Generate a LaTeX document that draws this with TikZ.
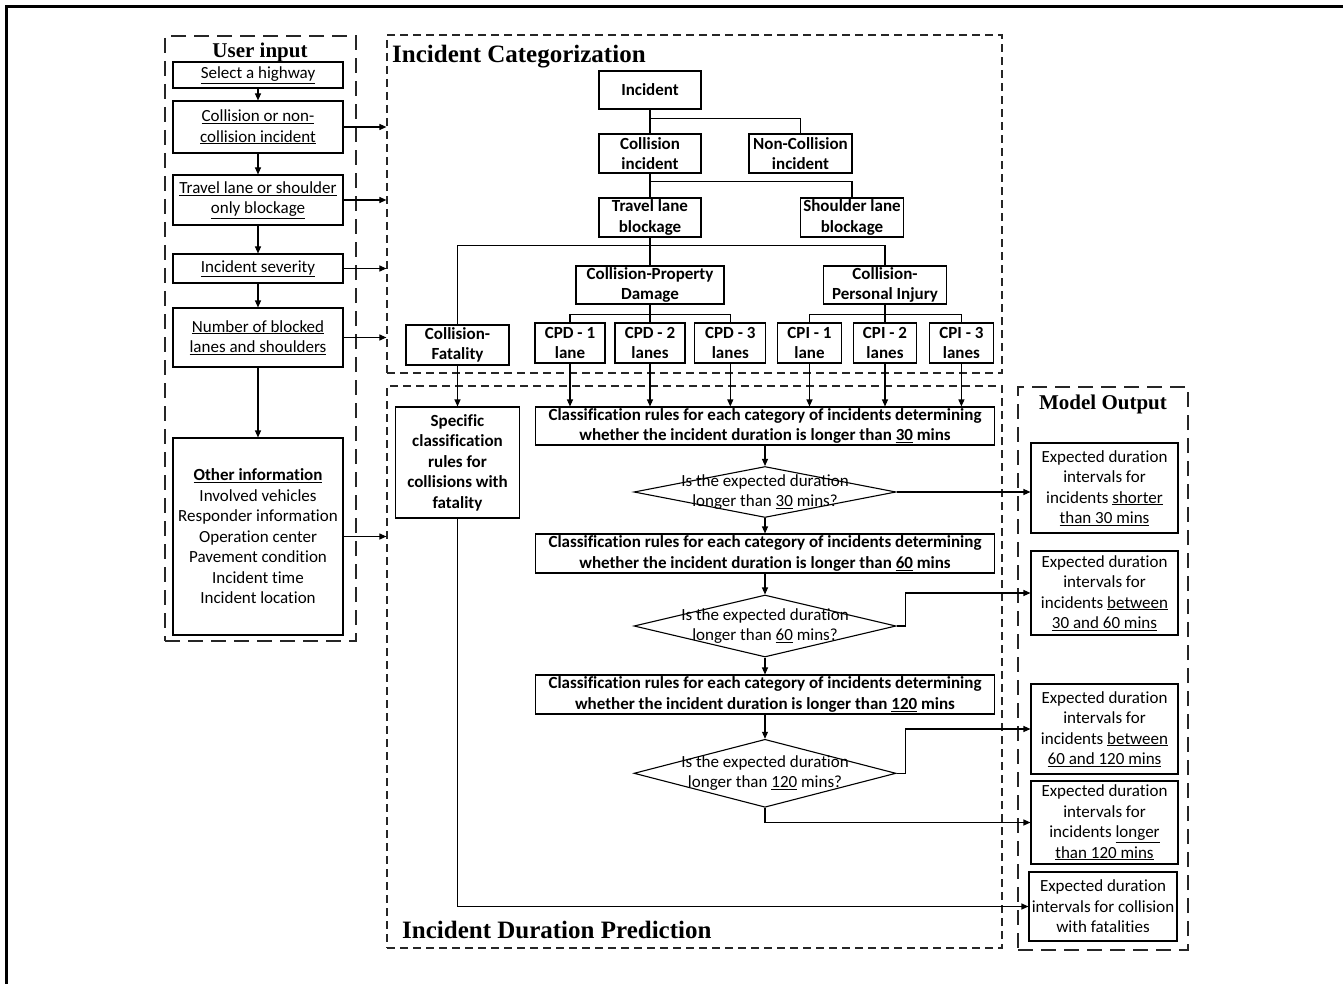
\documentclass[tikz,border=0pt]{standalone}
\usepackage{fontspec}
\setmainfont{Carlito}[Ligatures={NoCommon}]
\newfontfamily\titlefont{Liberation Serif}
\usetikzlibrary{arrows.meta,shapes.geometric}

\begin{document}
\begin{tikzpicture}[x=1pt,y=-1pt,
  every node/.style={font=\fontsize{17}{20.5}\selectfont},
  box/.style={draw,line width=1.1pt,align=center,inner sep=0pt},
  bbox/.style={box,font=\fontsize{17}{20.5}\selectfont\bfseries},
  dia/.style={draw,diamond,line width=1.1pt,inner sep=0pt,minimum width=262},
  link/.style={line width=1.1pt},
  arr/.style={line width=1.1pt,-{Triangle[length=7pt,width=6pt]}},
  longdash/.style={draw=black!85,line width=1.6pt,dash pattern=on 15pt off 8pt,inner sep=0pt},
  shortdash/.style={draw=black!85,line width=1.2pt,dash pattern=on 8pt off 5pt,inner sep=0pt},
  frametitle/.style={font=\titlefont\bfseries\fontsize{21}{24}\selectfont,inner sep=0pt},
  bigtitle/.style={font=\titlefont\bfseries\fontsize{25}{28}\selectfont,inner sep=0pt}
]
\useasboundingbox (0,0) rectangle (1343,984);

% page frame
\draw[line width=3pt] (6,984) -- (6,7) -- (1343,7);

% ---------- group frames ----------
\node[longdash,minimum width=191,minimum height=605] (uif) at (260.5,338.5) {};
\node[shortdash,minimum width=615,minimum height=338] (catf) at (694.5,204) {};
\node[shortdash,minimum width=615,minimum height=562] (idpf) at (694.5,667) {};
\node[longdash,minimum width=170,minimum height=563] (mof) at (1103,668.5) {};

\node[frametitle,anchor=base] (uit) at (260,58) {User input};
\node[bigtitle,anchor=base west] (catt) at (392,63) {Incident Categorization};
\node[bigtitle,anchor=base west] (idpt) at (402,938) {Incident Duration Prediction};
\node[frametitle,anchor=base] (mot) at (1103,409) {Model Output};

% ---------- user input ----------
\node[box,minimum width=170,minimum height=26] (sel) at (258,75) {\underline{Select a highway}};
\node[box,minimum width=170,minimum height=52] (col) at (258,127) {\underline{Collision or non-}\\\underline{collision incident}};
\node[box,minimum width=170,minimum height=50] (trv) at (258,200) {\underline{Travel lane or shoulder}\\\underline{only blockage}};
\node[box,minimum width=170,minimum height=29] (sev) at (258,268.5) {\underline{Incident severity}};
\node[box,minimum width=170,minimum height=59] (num) at (258,337.5) {\underline{Number of blocked}\\\underline{lanes and shoulders}};
\node[box,minimum width=170,minimum height=197] (oth) at (258,536.5) {\textbf{\underline{Other information}}\\Involved vehicles\\Responder information\\Operation center\\Pavement condition\\Incident time\\Incident location};

\draw[arr] (sel) -- (col);
\draw[arr] (col) -- (trv);
\draw[arr] (trv) -- (sev);
\draw[arr] (sev) -- (num);
\draw[arr] (num) -- (oth);

\draw[arr] (col.east) -- (col.east -| catf.west);
\draw[arr] (trv.east) -- (trv.east -| catf.west);
\draw[arr] (sev.east) -- (sev.east -| catf.west);
\draw[arr] (num.east) -- (num.east -| catf.west);
\draw[arr] (oth.east) -- (oth.east -| idpf.west);

% ---------- incident categorization ----------
\node[bbox,minimum width=102,minimum height=38] (inc) at (650,90) {Incident};
\node[bbox,minimum width=102,minimum height=39] (coll) at (650,153.5) {Collision\\incident};
\node[bbox,minimum width=103,minimum height=39] (ncoll) at (800.5,153.5) {Non-Collision\\incident};
\node[bbox,minimum width=102,minimum height=39] (tlb) at (650,217.5) {Travel lane\\blockage};
\node[bbox,minimum width=103,minimum height=39] (slb) at (852,217.5) {Shoulder lane\\blockage};
\node[bbox,minimum width=148,minimum height=38] (cpd) at (650,285) {Collision-Property\\Damage};
\node[bbox,minimum width=123,minimum height=38] (cpi) at (885,285) {Collision-\\Personal Injury};
\node[bbox,minimum width=103,minimum height=40] (cfat) at (457.5,345) {Collision-\\Fatality};
\node[bbox,minimum width=70,minimum height=40] (cpda) at (570,343) {CPD - 1\\lane};
\node[bbox,minimum width=70,minimum height=40] (cpdb) at (650,343) {CPD - 2\\lanes};
\node[bbox,minimum width=71,minimum height=40] (cpdc) at (730.3,343) {CPD - 3\\lanes};
\node[bbox,minimum width=63.5,minimum height=40] (cpia) at (809.5,343) {CPI - 1\\lane};
\node[bbox,minimum width=63.5,minimum height=40] (cpib) at (885,343) {CPI - 2\\lanes};
\node[bbox,minimum width=64,minimum height=40] (cpic) at (961.4,343) {CPI - 3\\lanes};

\draw[link] (inc) -- (coll);
\draw[link] (inc.south) -- ++(0,9) -| (ncoll.north);
\draw[link] (coll) -- (tlb);
\draw[link] (coll.south) -- ++(0,8) -| (slb.north);
\draw[link] (tlb) -- (cpd);
\path (tlb.south) ++(0,8) coordinate (tbus);
\draw[link] (tlb.south) -- (tbus) -| (cfat.north);
\draw[link] (tbus) -| (cpi.north);
\draw[link] (cpd) -- (cpdb);
\path (cpd.south) ++(0,10) coordinate (pbus);
\draw[link] (pbus) -| (cpda.north);
\draw[link] (pbus) -| (cpdc.north);
\draw[link] (cpi) -- (cpib);
\path (cpi.south) ++(0,10) coordinate (ibus);
\draw[link] (ibus) -| (cpia.north);
\draw[link] (ibus) -| (cpic.north);

% ---------- incident duration prediction ----------
\node[bbox,minimum width=124,minimum height=111] (spec) at (457.5,462.5) {Specific\\classification\\rules for\\collisions with\\fatality};
\node[bbox,minimum width=459,minimum height=38] (clsa) at (765,426) {Classification rules for each category of incidents determining\\whether the incident duration is longer than \underline{30} mins};
\node[dia,minimum height=51] (da) at (765,492) {};
\node[inner sep=0pt,align=center] (dat) at (da) {Is the expected duration\\longer than \underline{30} mins?};
\node[bbox,minimum width=459,minimum height=39] (clsb) at (765,553.5) {Classification rules for each category of incidents determining\\whether the incident duration is longer than \underline{60} mins};
\node[dia,minimum height=62] (db) at (765,626) {};
\node[inner sep=0pt,align=center] (dbt) at (db) {Is the expected duration\\longer than \underline{60} mins?};
\node[bbox,minimum width=459,minimum height=39] (clsc) at (765,694.5) {Classification rules for each category of incidents determining\\whether the incident duration is longer than \underline{120} mins};
\node[dia,minimum height=68] (dc) at (765,773.3) {};
\node[inner sep=0pt,align=center] (dct) at (dc) {Is the expected duration\\longer than \underline{120} mins?};

\draw[arr] (cfat.south) -- (cfat.south |- spec.north);
\draw[arr] (cpda.south) -- (cpda.south |- clsa.north);
\draw[arr] (cpdb.south) -- (cpdb.south |- clsa.north);
\draw[arr] (cpdc.south) -- (cpdc.south |- clsa.north);
\draw[arr] (cpia.south) -- (cpia.south |- clsa.north);
\draw[arr] (cpib.south) -- (cpib.south |- clsa.north);
\draw[arr] (cpic.south) -- (cpic.south |- clsa.north);

\draw[arr] (clsa) -- (da);
\draw[arr] (da) -- (clsb);
\draw[arr] (clsb) -- (db);
\draw[arr] (db) -- (clsc);
\draw[arr] (clsc) -- (dc);

% ---------- model output ----------
\node[box,minimum width=147,minimum height=90] (outa) at (1104.5,488) {Expected duration\\intervals for\\incidents \underline{shorter}\\\underline{than 30 mins}};
\node[box,minimum width=147,minimum height=84] (outb) at (1104.5,593) {Expected duration\\intervals for\\incidents \underline{between}\\\underline{30 and 60 mins}};
\node[box,minimum width=147,minimum height=90] (outc) at (1104.5,729) {Expected duration\\intervals for\\incidents \underline{between}\\\underline{60 and 120 mins}};
\node[box,minimum width=147,minimum height=83] (outd) at (1104.5,822.5) {Expected duration\\intervals for\\incidents \underline{longer}\\\underline{than 120 mins}};
\node[box,minimum width=148,minimum height=69] (oute) at (1103,906.5) {Expected duration\\intervals for collision\\with fatalities};

\draw[arr] (da.east) -- (da.east -| outa.west);
\draw[arr] (db.east) -- ++(9,0) |- (outb.west);
\draw[arr] (dc.east) -- ++(9,0) |- (outc.west);
\draw[arr] (dc.south) |- (outd.west);
\draw[arr] (spec.south) |- (oute.west);

\end{tikzpicture}
\end{document}
